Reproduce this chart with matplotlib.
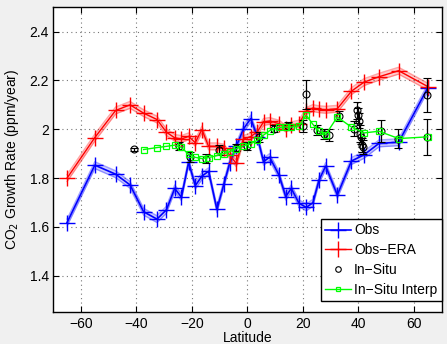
import matplotlib
matplotlib.use("Agg")
import matplotlib.pyplot as plt
from matplotlib.lines import Line2D
import numpy as np

# Latitude bins of the observations
lat = [-65, -55, -47.5, -42.3, -37.4, -32.6, -29.2, -26.2, -23.8, -21.2, -18.8,
       -16.4, -14, -11, -8.5, -6.4, -4, -1.5, 1.2, 3.6, 5.8, 8, 11.4, 13.8,
       15.8, 18.6, 21.2, 23.6, 25.8, 28.2, 32.4, 37.5, 42, 47.4, 54.5, 65]

obs = [1.618, 1.853, 1.816, 1.772, 1.662, 1.632, 1.670, 1.758, 1.722, 1.865,
       1.769, 1.808, 1.828, 1.672, 1.775, 1.862, 1.930, 2.000, 2.044, 1.969,
       1.867, 1.886, 1.812, 1.724, 1.758, 1.697, 1.680, 1.699, 1.792, 1.849,
       1.731, 1.870, 1.895, 1.942, 1.947, 2.170]

obs_era = [1.800, 1.966, 2.077, 2.100, 2.066, 2.040, 1.988, 1.965, 1.960, 1.971,
           1.945, 1.999, 1.930, 1.930, 1.925, 1.894, 1.860, 1.960, 1.970, 1.990,
           2.030, 2.034, 2.023, 2.003, 2.016, 2.023, 2.075, 2.087, 2.082, 2.080,
           2.084, 2.156, 2.193, 2.215, 2.240, 2.175]

band = 0.014  # half-width of shaded uncertainty band

# In-situ station values
insitu_lat = [-40.8, -24.8, -20.6, -15, -10.4, -4.2, 0, 4.2, 9.6, 14.7, 20, 21.1,
              25, 27.6, 29.4, 33, 38.4, 39.6, 39.8, 40.2, 40.5, 40.8, 41.2, 41.6,
              48, 54.3, 64.7, 64.7]
insitu_val = [1.918, 1.932, 1.887, 1.880, 1.914, 1.924, 1.932, 1.969, 2.003, 2.013,
              2.013, 2.143, 1.996, 1.980, 1.976, 2.053, 2.003, 2.078, 2.057, 2.035,
              1.982, 1.969, 1.935, 1.928, 1.992, 1.962, 2.142, 1.969]
insitu_err = [0.005, 0.017, 0.02, 0.02, 0.02, 0.015, 0.015, 0.02, 0.015, 0.015,
              0.025, 0.06, 0.02, 0.02, 0.025, 0.02, 0.03, 0.035, 0.03, 0.03,
              0.035, 0.03, 0.03, 0.03, 0.045, 0.038, 0.07, 0.075]

# In-situ interpolated to observation latitudes (from -37.4 onward)
interp_lat = lat[4:]
interp_val = [1.917, 1.925, 1.930, 1.935, 1.926, 1.897, 1.885, 1.880, 1.884, 1.892,
              1.900, 1.908, 1.920, 1.932, 1.941, 1.955, 1.976, 1.994, 2.008, 2.009,
              2.009, 2.014, 2.058, 2.020, 1.992, 1.978, 2.050, 2.009, 1.985, 1.992,
              1.962, 1.969]

xticks = [-60, -40, -20, 0, 20, 40, 60]
yticks = [1.4, 1.6, 1.8, 2.0, 2.2, 2.4]
ytick_labels = ["1.4", "1.6", "1.8", "2", "2.2", "2.4"]

plt.rcParams['font.family'] = ['Liberation Sans', 'DejaVu Sans']

fig = plt.figure(figsize=(4.47, 3.44), dpi=100, facecolor='#f0f0f0')
ax = fig.add_axes([0.119, 0.092, 0.869, 0.887])
ax.set_facecolor('white')

lat_a = np.array(lat)
for vals, col in ((obs, (0, 0, 1)), (obs_era, (1, 0, 0))):
    v = np.array(vals)
    ax.fill_between(lat_a, v - band, v + band, color=col, alpha=0.2, lw=0, zorder=2)
    ax.plot(lat_a, v - band, color=col, alpha=0.35, lw=1.0, zorder=2)
    ax.plot(lat_a, v + band, color=col, alpha=0.35, lw=1.0, zorder=2)

ax.plot(lat, obs, color=(0, 0, 1), lw=1.2, marker='+', ms=12, mew=1.0, zorder=3)
ax.plot(lat, obs_era, color=(1, 0, 0), lw=1.0, marker='+', ms=12, mew=1.0, zorder=3)

ax.errorbar(insitu_lat, insitu_val, yerr=insitu_err, fmt='o', color='black',
            mfc='none', ms=5, mew=0.8, elinewidth=0.9, capsize=3, capthick=0.9,
            zorder=4)
ax.plot(interp_lat, interp_val, color=(0, 1, 0), lw=1.0, marker='s', ms=4,
        mfc='none', mew=0.9, zorder=5)

ax.set_xlim(-70, 70)
ax.set_ylim(1.25, 2.5)
ax.set_xticks(xticks)
ax.set_xticklabels([f"{t}".replace('-', '\u2212') for t in xticks])
ax.set_yticks(yticks)
ax.set_yticklabels(ytick_labels)
ax.tick_params(direction='in', top=True, right=True, length=4, width=0.8,
               labelsize=10, pad=3)
ax.grid(True, linestyle=(0, (1, 3)), color='#777777', linewidth=0.8)
for s in ax.spines.values():
    s.set_linewidth(1.0)
    s.set_color('black')

ax.set_xlabel("Latitude", fontsize=10, labelpad=0)
ax.set_ylabel("CO$_2$ Growth Rate (ppm/year)", fontsize=10, labelpad=6)

handles = [
    Line2D([], [], color=(0, 0, 1), marker='+', ms=12, mew=1.0, lw=1.2),
    Line2D([], [], color=(1, 0, 0), marker='+', ms=12, mew=1.0, lw=1.0),
    Line2D([], [], color='black', marker='o', ms=4, mfc='none', mew=0.8, lw=0),
    Line2D([], [], color=(0, 1, 0), marker='s', ms=3.5, mfc='none', mew=0.9, lw=1.0),
]
leg = ax.legend(handles, ["Obs", "Obs\u2212ERA", "In\u2212Situ", "In\u2212Situ Interp"],
                loc='lower right', bbox_to_anchor=(1.0, 0.037), borderaxespad=0,
                fontsize=10, fancybox=False, framealpha=1, edgecolor='black',
                handlelength=1.9, handletextpad=0.2, labelspacing=0.42,
                borderpad=0.3)
leg.get_frame().set_linewidth(1.0)
leg.set_zorder(10)

fig.savefig("out.png", dpi=100, facecolor=fig.get_facecolor())
